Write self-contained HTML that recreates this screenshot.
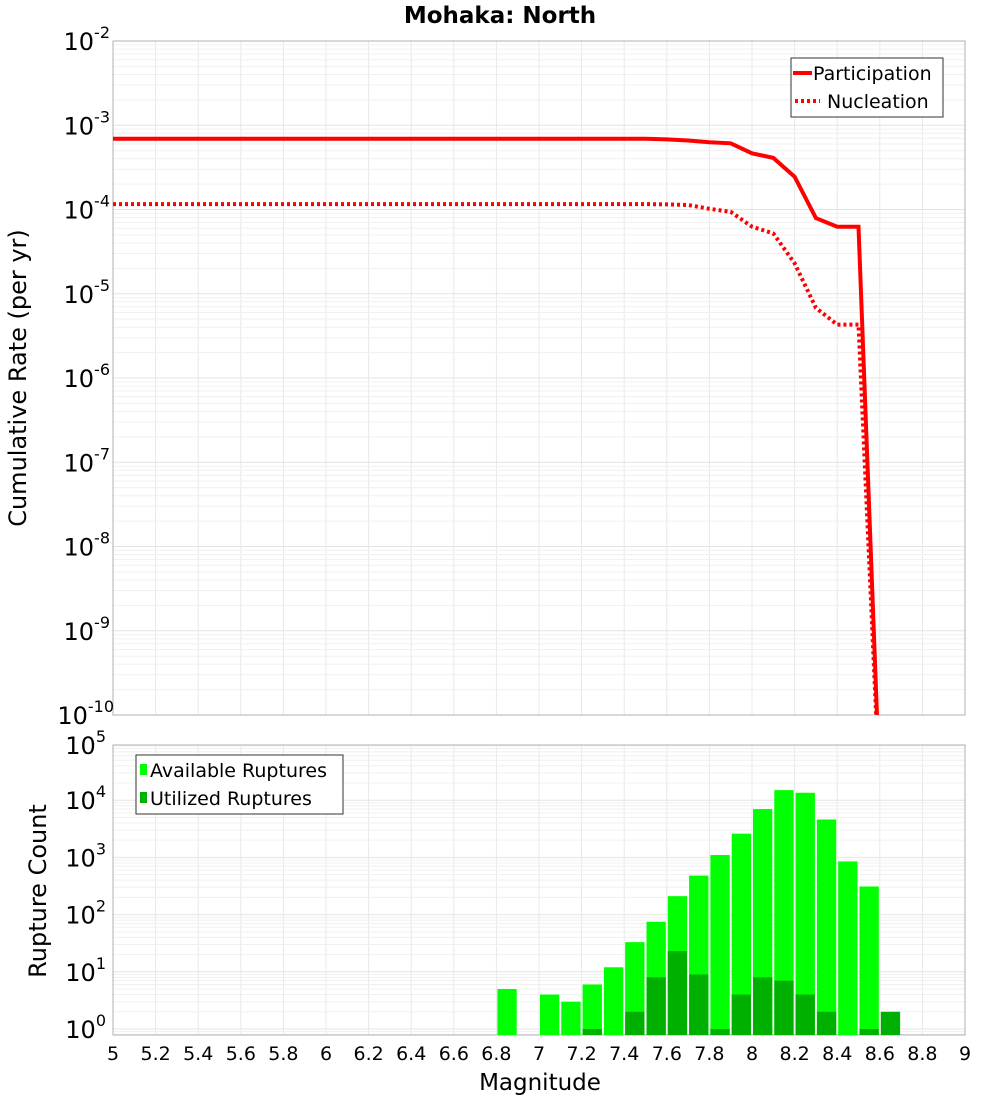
<!DOCTYPE html>
<html><head><meta charset="utf-8"><style>
body{margin:0;background:#fff;}
svg{display:block;font-family:"DejaVu Sans","Liberation Sans",sans-serif;}
</style></head><body>
<svg id="c" width="1000" height="1100" viewBox="0 0 1000 1100"></svg>
<script>
const magGrid=[5.0,5.1,5.2,5.3,5.4,5.5,5.6,5.7,5.8,5.9,6.0,6.1,6.2,6.3,6.4,6.5,6.6,6.7,6.8,6.9,7.0,7.1,7.2,7.3,7.4,7.5,7.6,7.7,7.8,7.9,8.0,8.1,8.2,8.3,8.4,8.5,8.6];
const participation=[6.9e-4,6.9e-4,6.9e-4,6.9e-4,6.9e-4,6.9e-4,6.9e-4,6.9e-4,6.9e-4,6.9e-4,6.9e-4,6.9e-4,6.9e-4,6.9e-4,6.9e-4,6.9e-4,6.9e-4,6.9e-4,6.9e-4,6.9e-4,6.9e-4,6.9e-4,6.9e-4,6.9e-4,6.9e-4,6.9e-4,6.8e-4,6.6e-4,6.3e-4,6.1e-4,4.65e-4,4.1e-4,2.45e-4,7.9e-5,6.25e-5,6.25e-5,1.3e-11];
const nucleation=[1.16e-4,1.16e-4,1.16e-4,1.16e-4,1.16e-4,1.16e-4,1.16e-4,1.16e-4,1.16e-4,1.16e-4,1.16e-4,1.16e-4,1.16e-4,1.16e-4,1.16e-4,1.16e-4,1.16e-4,1.16e-4,1.16e-4,1.16e-4,1.16e-4,1.16e-4,1.16e-4,1.16e-4,1.16e-4,1.16e-4,1.15e-4,1.13e-4,1.02e-4,9.4e-5,6.25e-5,5.2e-5,2.3e-5,6.8e-6,4.3e-6,4.3e-6,1.1e-11];
const binCenters=[6.85,7.05,7.15,7.25,7.35,7.45,7.55,7.65,7.75,7.85,7.95,8.05,8.15,8.25,8.35,8.45,8.55,8.65];
const availableCounts=[5,4,3,6,12,33,75,210,480,1100,2600,7000,15000,13500,4600,850,310,0];
const utilizedCounts=[0,0,0,1,0,2,8,23,9,1,4,8,7,4,2,0,1,2];
const xTicks=["5","5.2","5.4","5.6","5.8","6","6.2","6.4","6.6","6.8","7","7.2","7.4","7.6","7.8","8","8.2","8.4","8.6","8.8","9"];
const topExps=[-2,-3,-4,-5,-6,-7,-8,-9,-10];
const botExps=[5,4,3,2,1,0];

const NS="http://www.w3.org/2000/svg";
const svg=document.getElementById('c');
function el(t,a,p){const e=document.createElementNS(NS,t);for(const k in a)e.setAttribute(k,a[k]);(p||svg).appendChild(e);return e;}
const L=113,R=965,T1=41,B1=715,T2=745,B2=1035;
const X=m=>L+(m-5)/4*(R-L);
const Y1=v=>T1+(-2-Math.log10(v))/8*(B1-T1);
const dec2=57.2, y0=1029;
const Y2=v=>y0-Math.log10(v)*dec2;

function grid(top,bot,ylog,lo,hi){
  const g=el('g',{});
  
  
  for(let i=0;i<xTicks.length;i++){const x=X(+xTicks[i]);el('line',{x1:x,x2:x,y1:top,y2:bot,stroke:'#e8e8e8','stroke-width':1},g);}
  for(let d=lo;d<hi;d++)for(let k=1;k<10;k++){const y=ylog(k*Math.pow(10,d));if(y>=top-0.5&&y<=bot+0.5)el('line',{x1:L,x2:R,y1:y,y2:y,stroke:k==1?'#e4e4e4':'#f0f0f0','stroke-width':1},g);}
}
grid(T1,B1,Y1,-10,-2);
grid(T2,B2,Y2,-1,5);
const f1=el('rect',{x:L,y:T1,width:R-L,height:B1-T1,fill:'none',stroke:'#b0b0b0'});


const f2=el('rect',{x:L,y:T2,width:R-L,height:B2-T2,fill:'none',stroke:'#b0b0b0'});



const defs=el('defs',{});
const cp=el('clipPath',{id:'cp1'},defs);el('rect',{x:L,y:T1,width:R-L,height:B1-T1},cp);

function line(vals,dash,name){
  const p=vals.map((v,i)=>(i?'L':'M')+X(magGrid[i]).toFixed(1)+','+Y1(v).toFixed(1)).join('');
  const e=el('path',{d:p,fill:'none',stroke:'#ff0000','stroke-width':4,'clip-path':'url(#cp1)','stroke-dasharray':dash||'none'});
  
  
}
line(participation,null,'participation-line');
line(nucleation,'3,3','nucleation-line');

const bw=(X(5.1)-X(5))-2;
for(let i=0;i<binCenters.length;i++){
  const x=X(binCenters[i])-bw/2;
  if(availableCounts[i]>0){const y=Y2(availableCounts[i]);const b=el('rect',{x:x,y:y,width:bw,height:B2-y,fill:'#00ff00'});
    
    }
  if(utilizedCounts[i]>0){const y=Y2(utilizedCounts[i]);const b=el('rect',{x:x,y:y,width:bw,height:B2-y,fill:'#00b000'});
    
    }
}

for(const t of xTicks){const tx=el('text',{x:X(+t),y:1060,'font-size':19,'text-anchor':'middle',fill:'#000'});tx.textContent=t;
  
  }
function ylab(e,y,name){const t=el('text',{x:102,y:y+9,'font-size':24,'text-anchor':'end',fill:'#000'});
  
  
  const a=el('tspan',{},t);a.textContent='10';
  const b=el('tspan',{dy:-12,'font-size':16},t);b.textContent=String(e);
  t.setAttribute('transform','translate('+(String(e).length*4)+',0)');}
for(const e of topExps)ylab(e,Y1(Math.pow(10,e)),'top-y-tick-label');
for(const e of botExps)ylab(e,e==5?T2:Y2(Math.pow(10,e)),'bottom-y-tick-label');
</script>
<div style="position:absolute;left:0;top:0;width:1000px;height:1100px;pointer-events:none">
<svg width="1000" height="1100" style="position:absolute;left:0;top:0">
<text x="500" y="23" font-size="23" font-weight="bold" text-anchor="middle">Mohaka: North</text>
<text x="540" y="1090" font-size="23" text-anchor="middle">Magnitude</text>
<text transform="translate(26,378) rotate(-90)" font-size="24" text-anchor="middle">Cumulative Rate (per yr)</text>
<text transform="translate(46,891) rotate(-90)" font-size="24" text-anchor="middle">Rupture Count</text>
<g>
<rect x="791" y="58" width="152" height="59" fill="#fff" stroke="#333"/>
<line x1="793" y1="73" x2="812" y2="73" stroke="#f00" stroke-width="4"/>
<text x="813" y="80" font-size="19">Participation</text>
<line x1="795" y1="101" x2="820" y2="101" stroke="#f00" stroke-width="4" stroke-dasharray="3,3"/>
<text x="827" y="108" font-size="19">Nucleation</text>
</g>
<g>
<rect x="136" y="755" width="207" height="59" fill="#fff" stroke="#333"/>
<rect x="140" y="764" width="7" height="11" fill="#00ff00"/>
<text x="150" y="777" font-size="19">Available Ruptures</text>
<rect x="140" y="792" width="7" height="11" fill="#00b000"/>
<text x="150" y="805" font-size="19">Utilized Ruptures</text>
</g>
</svg></div>
</body></html>
